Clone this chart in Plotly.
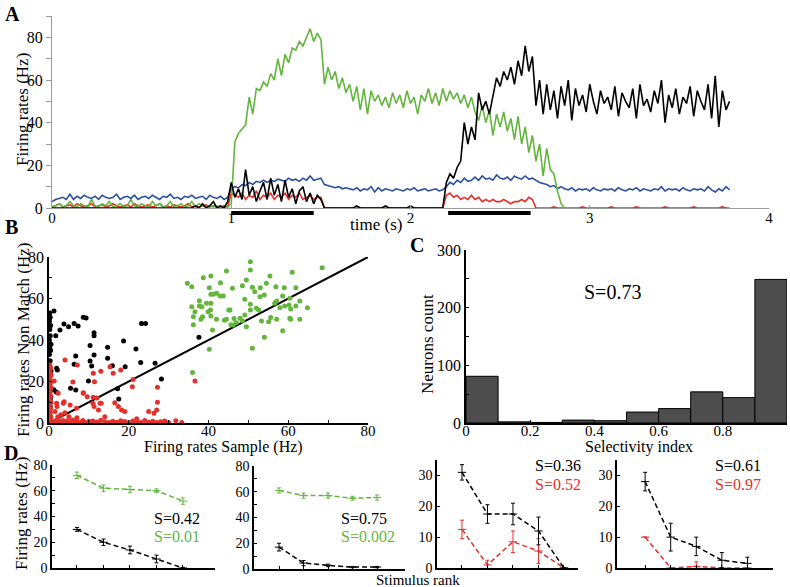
import plotly.graph_objects as go

W, H = 790, 587
FONT = "Liberation Serif, 'Times New Roman', 'DejaVu Serif', serif"

# ---------------- Panel A data (firing rate traces, dt = 20 ms) ----------------
DT = 0.02
green_A = ([0.5,1,2,0.5,1,3,1,0.5,2,1, 0.5,4,1,0.5,2,1,3,0.5,1,2, 0.5,1,4,1,0.5,2,1,0.5,3,1,
            2,0.5,1,3,0.5,1,2,0.5,1,3, 0.5,2,1,0.5,1,0.5,1,0.5,0.5,0.5]
           + [2,31,35,37,39,52,44,56,55,59,57,63,60,70,62,72,68,75,74,78,76,80,84,78,82,79]
           + [58,66,60,64,56,61,54,58,50,57,46,56,44,55,50,53,48,52,47,54,49,53,47,55,49,52,44,53,50,56,49,54,48,56]
           + [50,55,51,54,49,53,47,52,45,41,48,40,46,34,44,38,45,36,42,32,43,30,38,26,34]
           + [22,30,15,28,18,16,8,2,0])
black_A = ([0]*40 + [1,0,2,0,1,3,0,1,0,3]
           + [12,5,9,4,18,6,10,3,8,12,4,14,6,11,3,13,5,9,2,8,10,3,7,2,6,4]
           + [0,0,0,0,0,0,0,0,0,1, 0,0,0,0,0,0,0,1,0,0, 0,0,0,0,1,0,0,0,0,0, 0,0,0,0]
           + [12,16,14,19,22,40,30,38,32,54,46,50,44,53,61,57,64,60,66,58,69,62,76,64,71]
           + [48,60,44,58,46,55,42,57,48,60, 41,56,48,53,45,58,50,44,55,49, 52,46,57,43,54,50,47,56,42,58,
              48,51,45,55,49,60,40,53,47,56, 44,52,49,57,43,55,50,46,58,42, 62,38,55,46,50])
blue_A = ([3,4,4.5,5,4,6.5,4,5.5,4.5,6, 5,4.5,5.5,4,6,5,4.5,5,6.5,4, 5,5.5,4.5,6,4,5,5.5,4.5,6,5,
           4,5.5,5,6.5,4.5,5,4,5.5,5,6, 4.5,5,5.5,4,6,5,4.5,5.5,4,5]
          + [9,10,9.5,11,10.5,12,11,12.5,12,13, 12,13,12.5,13.5,13,12.5,14,13,13.5,12.5, 14,13,15,13,13.5,14]
          + [11,10.5,10,9.5,10,9,9.5,9,8.5,9.5, 8,9,8.5,10,7.5,9.5,8,9,8.5,8, 9,8.5,8,9,8.5,9.5,8,8.5,9,8, 8.5,9,8,8.5]
          + [10,12,11,13,12,14,12.5,13,14.5,13, 15,13.5,14,13,15.5,14,13.5,14.5,13,15, 14,13.5,15,13.5,14]
          + [13,12,11.5,11,10,10.5,9,10,9,8.5, 9.5,8,9,8.5,9,8,9.5,8.5,8,9, 8.5,9,8,9.5,8.5,8,9,8.5,9.5,8,
             9,8.5,8,9,8.5,10,8,9,8.5,9, 8,9.5,8.5,8,9,8.5,9,8,10,8.5, 7.5,9,8,10,8.5])
red_A = ([0.5,1,2,0.5,1,1.5,0.5,2,1,0.5, 1,2,0.5,1,1.5,0.5,1,2,1,0.5, 1,1.5,0.5,2,1,0.5,1,1.5,0.5,1,
          2,0.5,1,0.5,1.5,1,0.5,1,2,0.5, 1,0.5,1,1.5,0.5,1,0.5,0.5,1,0.5]
         + [7,6,5,7,4,6,5,8,4,6, 5,7,4,6,5,7,4,6,5,7, 4,5,6,4,5,5]
         + [0]*34
         + [6,7,5,6,4,5,4,6,4,5, 3,4,3,4,3,3,4,3,2,3, 3,4,3,5,4]
         + [0,0,0,0,0,0.5,0,0,0,0, 0,0,0,0.5,0,0,0,0,0,0, 0,0.5,0,0,0,0,0,0,0.5,0,
            0,0,0,0,0,0,0.5,0,0,0, 0,0,0,0,0.5,0,0,0,0,0, 0,0,0.5,0,0])
SAMPLE_PERIOD = [1.0, 1.46]
TEST_PERIOD = [2.21, 2.67]
A_XTICKS = [0, 1, 2, 3, 4]

# ---------------- Panel B data (scatter) ----------------
green_Bx = [34.7,35.8,38.7,40.6,44.5,50.5,50.5,43,46,48.5,49.5,55.4,61,68.5,40.2,39.5,40.6,40.6,41.2,42,
            43.7,37.7,35.8,36.6,37.7,40.5,36.2,38.5,38.1,40.6,36.2,41,42,44.5,45.1,46.4,45.6,47,48.5,49.1,
            49.5,49.1,50.5,50.5,51,51.6,52,52.6,53,54,52.9,54.5,53.3,55.1,55.6,54,51,56.9,57.1,56.6,
            58.6,59,60.4,60.2,59.1,61.9,61.9,60.6,57.9,57.1,58.6,60.6,62.9,62.9,64.8,36,40.2,38.3,39.9,
            42.9,45.4,46.2,47.9,60.4,44]
green_By = [67.3,65.7,70,70.8,73.3,77.7,73.7,67.6,64.9,66.2,68.9,70.8,72.6,74.8,65.2,57.7,57.7,62,62,62.5,
            61.2,58.9,56,53.6,56.4,54.5,51.2,51.2,50,51.6,47.4,44.8,50,50,54.5,50.4,47.4,48.3,49.3,52,
            46.4,59.6,57.2,54.5,65.4,63.3,55.3,54.5,65.2,61.7,60.9,67.3,49.2,48.8,50.9,41.3,36,65.7,58.8,57.7,
            61.2,65.2,60.1,56.9,56.4,65.2,56.4,54.9,55.6,50,44.5,50,58.8,50,55.6,24.3,35.5,56,53.6,
            61.2,54.5,47.2,50.5,50.5,49.5]
black_Bx = [0.2,0.3,0.1,0.4,0.2,0.3,0.1,0.5,0.2,0.4,0.1,0.3,0.2,0.5,0.1,0.3,0.2,0.4,0.1,0.3,0.2,
            1.25,1.7,2.75,3.75,4.9,6.3,7.3,8.6,9.3,11.3,11.3,10.3,11.3,6.7,6.3,10.3,10.7,14.7,14.7,15.9,
            18.7,19.1,21.8,23,23.2,24.2,26.6,28.2,17.5,9.9,5.4,6.7,1.9,2.1,37.6,1.2,1.8,17.2]
black_By = [53,51,49,47,45,42,40,38,36,35,33,30,27,25,22,20,17,12,10,8,5,
            54,42,44.8,47.7,46.4,48,46.7,51,50.6,43.5,42,37.3,32.8,32.3,28.3,29.9,27.5,36.5,31.2,27.6,
            39.5,27.1,35.7,29.2,48,48,28.8,21.2,11.6,20.2,16.7,15.9,26.4,25.5,41.3,16,15,16.5]
red_Bx = ([0.2,0.4,0.1,0.3,0.5,0.2,0.1,0.4,0.3,0.2,0.5,0.1,0.3,0.2,0.4,0.1,0.3,0.5,0.2,0.1,0.4,0.2,0.3,0.1,0.5,0.2,0.3]
          + [0.5,1,1.5,2,2.5,3,3.5,4,4.5,5,5.5,6,6.5,7,8,8.5,9,10,10.5,11,12,12.5,13,14,15,16,17,18,18.5,19,
             20,21,22,23,24,25,26,27,28,29,30,31.8,33.3]
          + [4,7.1,6,11.1,11.4,15.3,16.1,18,21.1,20.9,27.2,27.2,27,26.3,2.3,1.9,3.6,8.6,9.6,11,11.3,12.8,12.4,
             16.5,17.4,18.2,19,5.3,6.9,1.3,3.8,11.1,12,13.1,8.6,36.6,4,5,2,3,7,14,22,25,1.5,2.2,13])
red_By = ([28,26.5,25,24,23,22,21,20,19,18,17,16,15,14,13,12,11,10,9,8,7,6,5,4,3,2,1]
          + [0.3,1,0.5,1.5,0.2,0.8,1.2,0.4,1,0.3,0.7,1.5,0.2,0.9,0.4,1.2,0.3,0.8,0.2,1,0.5,0.3,1.3,0.6,0.2,
             0.9,0.4,1.1,0.3,0.7,0.2,1,0.5,0.3,1.2,0.4,0.8,0.2,0.6,1,0.3,1.1,0.2]
          + [30.4,28,19.8,24,19.9,27.1,24,25.5,21,17.5,17.2,10,6.3,4.7,14.3,9.5,9.5,14.3,12.7,9.5,7.9,9.5,6.3,
             9.8,7.9,6.3,5.5,8.7,7.1,20.2,10.3,12.4,12,9.5,14.6,20.2,5,3,8,4,2.5,3,2,5.5,5.5,3,25])
IDENTITY = [0, 80]

# ---------------- Panel C data (histogram) ----------------
SEL_BIN_CENTERS = [0.05, 0.15, 0.25, 0.35, 0.45, 0.55, 0.65, 0.75, 0.85, 0.95]
SEL_COUNTS = [81, 2, 1, 5, 4, 19, 25, 54, 44, 249]

# ---------------- Panel D data (tuning curves) ----------------
RANKS = [1, 2, 3, 4, 5]
D1_green = [72, 62, 61, 60, 52];   D1_green_err = [2.5, 2.5, 2.5, 1.5, 2.5]
D1_black = [30, 20, 14, 7, 0];     D1_black_err = [1.5, 2.5, 3, 3, 0.5]
D2_green = [61, 57, 57, 55, 55.5]; D2_green_err = [2, 2, 2, 1.5, 2]
D2_black = [17, 4.6, 2.8, 1.5, 1.5]; D2_black_err = [3, 2, 1, 0.5, 0.5]
D3_black = [31, 17.5, 17.5, 12, 0]; D3_black_err = [2.5, 3, 3.5, 4.5, 0]
D3_red = [12.5, 1, 8.5, 5.5, 0];    D3_red_err = [3, 1.5, 3.5, 4, 0]
D4_black = [28, 10, 7, 2.5, 1.5];   D4_black_err = [3, 4.5, 3, 2.5, 2]
D4_red = [10, 0, 0.5, 0, 0];        D4_red_err = [0, 0, 1.5, 0, 0]

GREEN = "#63b53d"
BLUE = "#2b4f9f"
RED = "#e3302b"
BLACK = "#000000"


def px(x):
    return x / W


def py(y):
    return 1 - y / H


def times(n):
    return [round(i * DT, 4) for i in range(n)]


fig = go.Figure()

# Panel A traces
for series, col in [(blue_A, BLUE), (red_A, RED), (green_A, GREEN), (black_A, BLACK)]:
    fig.add_trace(go.Scatter(x=times(len(series)), y=series, mode="lines",
                             line=dict(color=col, width=1.6), xaxis="x", yaxis="y",
                             hoverinfo="skip"))

# Panel B
fig.add_trace(go.Scatter(x=IDENTITY, y=IDENTITY, mode="lines", line=dict(color="black", width=2),
                         xaxis="x2", yaxis="y2"))
for xs, ys, col in [(green_Bx, green_By, GREEN), (black_Bx, black_By, BLACK), (red_Bx, red_By, RED)]:
    fig.add_trace(go.Scatter(x=xs, y=ys, mode="markers", marker=dict(color=col, size=5),
                             xaxis="x2", yaxis="y2", cliponaxis=False))

# Panel C
fig.add_trace(go.Bar(x=SEL_BIN_CENTERS, y=SEL_COUNTS, width=0.1,
                     marker=dict(color="#4d4d4d", line=dict(color="black", width=1)),
                     xaxis="x3", yaxis="y3"))


def tuning(y, err, col, xa, ya):
    fig.add_trace(go.Scatter(
        x=RANKS, y=y, mode="lines+markers",
        line=dict(color=col, width=1.5, dash="5px,3px"),
        marker=dict(symbol="line-ew", size=6, line=dict(color=col, width=1)),
        error_y=dict(type="data", array=err, visible=True, color=col, thickness=1, width=2),
        xaxis=xa, yaxis=ya, cliponaxis=False))


tuning(D1_green, D1_green_err, GREEN, "x4", "y4")
tuning(D1_black, D1_black_err, BLACK, "x4", "y4")
tuning(D2_green, D2_green_err, GREEN, "x5", "y5")
tuning(D2_black, D2_black_err, BLACK, "x5", "y5")
tuning(D3_red, D3_red_err, RED, "x6", "y6")
tuning(D3_black, D3_black_err, BLACK, "x6", "y6")
tuning(D4_red, D4_red_err, RED, "x7", "y7")
tuning(D4_black, D4_black_err, BLACK, "x7", "y7")


def axis(dom, rng, anchor, color="black", ticks="inside", tlen=3, size=15, **kw):
    d = dict(domain=dom, range=rng, anchor=anchor, showgrid=False, zeroline=False,
             automargin=False, showline=True, linecolor=color, linewidth=1.5, ticks=ticks,
             ticklen=tlen, tickcolor=color, tickwidth=1,
             tickfont=dict(family=FONT, size=size, color="black"))
    d.update(kw)
    return d


def labels_every(vals, step):
    return [str(v) if v % step == 0 else "" for v in vals]


a_y = list(range(0, 100, 10))
b_ticks = list(range(0, 90, 10))
c_y = list(range(0, 350, 50))
d12_y = list(range(0, 90, 10))
d34_y = [0, 10, 20, 30]

layout = dict(
    width=W, height=H, margin=dict(l=0, r=0, t=0, b=0, pad=0, autoexpand=False), showlegend=False,
    paper_bgcolor="white", plot_bgcolor="white",
    font=dict(family=FONT, size=15, color="black"),
    xaxis=axis([px(52), px(769)], [0, 4], "y", color="#9a9a9a", tlen=3, size=15,
               tickvals=A_XTICKS, linewidth=1.2, ticklabelstandoff=-4),
    yaxis=axis([py(208), py(16)], [0, 90], "x", color="#9a9a9a", ticks="outside", tlen=5, size=16,
               tickvals=a_y, ticktext=labels_every(a_y, 20), linewidth=1.2),
    xaxis2=axis([px(49), px(368)], [0, 80], "y2", size=15, tickvals=b_ticks,
                ticktext=labels_every(b_ticks, 20), ticklabelstandoff=-7),
    yaxis2=axis([py(423), py(257)], [0, 80], "x2", size=16, tickvals=b_ticks,
                ticktext=labels_every(b_ticks, 20)),
    xaxis3=axis([px(466), px(787)], [0, 1], "y3", size=15, ticklabelstandoff=-7,
                tickvals=[0, 0.2, 0.4, 0.6, 0.8, 1], ticktext=["0", "0.2", "0.4", "0.6", "0.8", "1"]),
    yaxis3=axis([py(423), py(250)], [0, 300], "x3", size=16, tickvals=c_y,
                ticktext=labels_every(c_y, 100)),
    xaxis4=axis([px(52), px(215)], [0.057, 6.21], "y4", tickvals=RANKS, showticklabels=False),
    yaxis4=axis([py(568), py(465)], [0, 80], "x4", size=14, tickvals=d12_y,
                ticktext=labels_every(d12_y, 20)),
    xaxis5=axis([px(254), px(405)], [-0.02, 6.14], "y5", tickvals=RANKS, showticklabels=False),
    yaxis5=axis([py(569), py(466)], [0, 80], "x5", size=14, tickvals=d12_y,
                ticktext=labels_every(d12_y, 20)),
    xaxis6=axis([px(437), px(578)], [0.02, 5.55], "y6", tickvals=RANKS, showticklabels=False),
    yaxis6=axis([py(568), py(460)], [0, 35], "x6", size=14, tickvals=d34_y),
    xaxis7=axis([px(617), px(773)], [-0.1, 6.0], "y7", tickvals=RANKS, showticklabels=False),
    yaxis7=axis([py(568), py(460)], [0, 35], "x7", size=14, tickvals=d34_y),
)
fig.update_layout(**layout)

# stimulus bars in panel A
for period in (SAMPLE_PERIOD, TEST_PERIOD):
    fig.add_shape(type="rect", xref="x", yref="paper", x0=period[0], x1=period[1],
                  y0=py(215), y1=py(211), fillcolor="black", line=dict(width=0))


def note(text, x, y, size=17, color="black", angle=0, xanchor="center", bold=False):
    if bold:
        text = "<b>" + text + "</b>"
    fig.add_annotation(text=text, x=px(x), y=py(y), xref="paper", yref="paper",
                       showarrow=False, textangle=angle, xanchor=xanchor, yanchor="middle",
                       font=dict(family=FONT, size=size, color=color))


note("A", 3, 14, size=20, xanchor="left", bold=True)
note("B", 3, 227, size=20, xanchor="left", bold=True)
note("C", 408, 245, size=20, xanchor="left", bold=True)
note("D", 2, 453, size=20, xanchor="left", bold=True)

note("Firing rates (Hz)", 22, 110, angle=-90)
note("time (s)", 376, 224)
note("Firing rates Non Match (Hz)", 23, 340, angle=-90)
note("Firing rates Sample (Hz)", 223, 447, size=16)
note("Neurons count", 427, 344, angle=-90)
note("Selectivity index", 639, 447, size=16)
note("S=0.73", 612, 292, size=20)
note("Firing rates (Hz)", 21, 514, angle=-90)
note("Stimulus rank", 418, 580, size=15)

note("S=0.42", 152, 518, size=16, xanchor="left")
note("S=0.01", 152, 536, size=16, color=GREEN, xanchor="left")
note("S=0.75", 339, 518, size=16, xanchor="left")
note("S=0.002", 339, 536, size=16, color=GREEN, xanchor="left")
note("S=0.36", 533, 466, size=16, xanchor="left")
note("S=0.52", 533, 484, size=16, color=RED, xanchor="left")
note("S=0.61", 713, 466, size=16, xanchor="left")
note("S=0.97", 713, 484, size=16, color=RED, xanchor="left")

fig.write_html("out.html", config={"displayModeBar": False},
               post_script="document.body.style.margin='0px';")
